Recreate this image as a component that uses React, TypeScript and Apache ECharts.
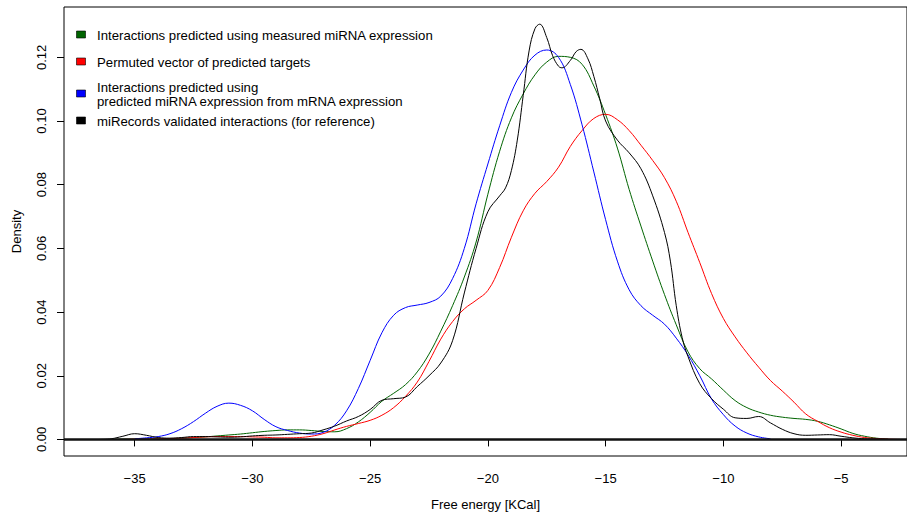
import React, { useEffect, useRef } from "react";
import * as echarts from "echarts";

const FONT = '"Liberation Sans", Arial, Helvetica, sans-serif';

const seriesNames = [
  "Interactions predicted using measured miRNA expression",
  "Permuted vector of predicted targets",
  "Interactions predicted using\npredicted miRNA expression from mRNA expression",
  "miRecords validated interactions (for reference)",
];
const seriesColors = ["#006400", "#ff0000", "#0000ff", "#000000"];

const xTicks = [-35, -30, -25, -20, -15, -10, -5];
const yTicks = [0, 0.02, 0.04, 0.06, 0.08, 0.1, 0.12];

const xGrid = [
  -36.5, -36, -35.5, -35, -34.5, -34, -33.5, -33, -32.5, -32, -31.5, -31, -30.5, -30, -29.5, -29, -28.5, -28,
  -27.5, -27, -26.5, -26, -25.5, -25, -24.5, -24, -23.5, -23, -22.5, -22, -21.5, -21, -20.5, -20, -19.5, -19,
  -18.5, -18, -17.5, -17, -16.5, -16, -15.5, -15, -14.5, -14, -13.5, -13, -12.5, -12, -11.5, -11, -10.5, -10,
  -9.5, -9, -8.5, -8, -7.5, -7, -6.5, -6, -5.5, -5, -4.5, -4, -3.5, -3, -2.5,
];

const greenVals = [
  null, 0.0, 0.0001, 0.0001, 0.0002, 0.0002, 0.0003, 0.0004, 0.0006, 0.0008, 0.0011, 0.0014, 0.0017, 0.0021,
  0.0025, 0.0028, 0.003, 0.003, 0.0028, 0.0025, 0.0024, 0.0034, 0.0055, 0.0085, 0.012, 0.0145, 0.0172, 0.0212,
  0.0268, 0.034, 0.042, 0.051, 0.062, 0.077, 0.0905, 0.101, 0.1085, 0.1145, 0.1185, 0.1203, 0.12, 0.1178, 0.111,
  0.102, 0.0915, 0.0785, 0.067, 0.056, 0.0455, 0.036, 0.0275, 0.0222, 0.019, 0.0155, 0.0122, 0.01, 0.0086,
  0.0076, 0.007, 0.0066, 0.0063, 0.0057, 0.0046, 0.0033, 0.0019, 0.001, 0.0004, 0.0001, null,
];

const redVals = [
  null, 0.0, 0.0, 0.0001, 0.0001, 0.0002, 0.0003, 0.0004, 0.0006, 0.0008, 0.0009, 0.0009, 0.0009, 0.0008,
  0.0007, 0.0005, 0.0005, 0.0006, 0.001, 0.0018, 0.003, 0.0041, 0.005, 0.006, 0.0076, 0.01, 0.0135, 0.018,
  0.0245, 0.0315, 0.037, 0.041, 0.0437, 0.0468, 0.054, 0.0635, 0.0718, 0.0773, 0.081, 0.0855, 0.092, 0.097,
  0.1008, 0.1021, 0.1004, 0.097, 0.0924, 0.0876, 0.0822, 0.0748, 0.065, 0.0555, 0.0458, 0.038, 0.0322, 0.0272,
  0.0227, 0.0185, 0.0152, 0.0117, 0.008, 0.0057, 0.0037, 0.0023, 0.0013, 0.0006, 0.0003, 0.0001, 0.0,
];

const blueVals = [
  null, null, null, 0.0002, 0.0005, 0.0009, 0.0018, 0.0034, 0.0056, 0.0082, 0.0104, 0.0114, 0.0107, 0.009,
  0.0063, 0.004, 0.0028, 0.002, 0.0017, 0.0022, 0.0045, 0.009, 0.016, 0.0248, 0.0335, 0.039, 0.0414, 0.0422,
  0.043, 0.045, 0.0505, 0.06, 0.074, 0.0865, 0.0985, 0.109, 0.116, 0.1207, 0.1223, 0.12, 0.1115, 0.0988, 0.084,
  0.069, 0.056, 0.047, 0.042, 0.039, 0.0362, 0.0318, 0.0265, 0.02, 0.0127, 0.0078, 0.0042, 0.002, 0.0008,
  0.0002, null, null, null, null, null, null, null, null, null, null, null,
];

const xBlack = [
  -36.5, -36, -35.5, -35, -34.5, -34, -33.5, -33, -32.5, -32, -31.5, -31, -30.5, -30, -29.5, -29, -28.5, -28,
  -27.5, -27, -26.5, -26, -25.5, -25, -24.5, -24, -23.5, -23, -22.5, -22, -21.5, -21, -20.5, -20, -19.5, -19.25,
  -19, -18.75, -18.5, -18.25, -18, -17.8, -17.5, -17.25, -17, -16.85, -16.5, -16.25, -16.05, -15.75, -15.5,
  -15.25, -15, -14.5, -14, -13.5, -13, -12.5, -12.25, -12, -11.75, -11.5, -11, -10.5, -10, -9.5, -9, -8.5, -8,
  -7.5, -7, -6.5, -6, -5.5, -5, -4.5, -4, -3.5, -3,
];
const blackVals = [
  0.0, 0.0002, 0.001, 0.0018, 0.0013, 0.0006, 0.0004, 0.0006, 0.0009, 0.0009, 0.0008, 0.0007, 0.0008, 0.0011,
  0.0013, 0.0014, 0.0016, 0.0018, 0.002, 0.003, 0.0042, 0.0058, 0.0072, 0.0094, 0.0123, 0.0128, 0.0133, 0.0166,
  0.02, 0.024, 0.031, 0.046, 0.06, 0.0715, 0.0765, 0.079, 0.0845, 0.094, 0.108, 0.122, 0.129, 0.1304, 0.1262,
  0.1205, 0.1172, 0.1167, 0.119, 0.1218, 0.1225, 0.1195, 0.114, 0.107, 0.1, 0.094, 0.09, 0.085, 0.0765, 0.065,
  0.056, 0.042, 0.032, 0.026, 0.0175, 0.0128, 0.0095, 0.0068, 0.0066, 0.0072, 0.0052, 0.0032, 0.0018, 0.0013,
  0.0014, 0.0015, 0.001, 0.0005, 0.0002, 0.0001, 0.0,
];

const fmtMinus = (v: number) => (v < 0 ? "\u2212" + String(-v) : String(v));

export default function App() {
  const ref = useRef<HTMLDivElement>(null);
  useEffect(() => {
    if (!ref.current) return;
    const chart = echarts.init(ref.current, undefined, { renderer: "svg" });
    const pairs = (xs: number[], ys: (number | null)[]) => xs.map((x, i) => [x, ys[i]]);
    const datasets = [
      pairs(xGrid, greenVals),
      pairs(xGrid, redVals),
      pairs(xGrid, blueVals),
      pairs(xBlack, blackVals),
    ];
    const series: any[] = datasets.map((d, i) => ({
      name: seriesNames[i],
      type: "line",
      data: d,
      smooth: 0.4,
      showSymbol: false,
      symbol: "none",
      lineStyle: { color: seriesColors[i], width: 1 },
      itemStyle: { color: seriesColors[i] },
      z: 2 + i,
    }));
    series[3].markLine = {
      silent: true,
      symbol: "none",
      label: { show: false },
      lineStyle: { color: "#111", width: 2.5, type: "solid" },
      data: [{ yAxis: 0 }],
      z: 10,
    };

    const legendRows = [
      { boxY: 35, lines: [{ y: 35, t: "Interactions predicted using measured miRNA expression" }] },
      { boxY: 62, lines: [{ y: 62, t: "Permuted vector of predicted targets" }] },
      {
        boxY: 94,
        lines: [
          { y: 87, t: "Interactions predicted using" },
          { y: 101, t: "predicted miRNA expression from mRNA expression" },
        ],
      },
      { boxY: 121, lines: [{ y: 121, t: "miRecords validated interactions (for reference)" }] },
    ];
    const graphic: any[] = [];
    legendRows.forEach((row, i) => {
      graphic.push({
        type: "rect",
        shape: { x: 76.5, y: row.boxY - 4, width: 9, height: 7 },
        style: { fill: seriesColors[i], stroke: "#000", lineWidth: 0.6 },
      });
      row.lines.forEach((ln) => {
        graphic.push({
          type: "text",
          x: 97,
          y: ln.y,
          style: { text: ln.t, font: `13.2px ${FONT}`, fill: "#000", verticalAlign: "middle", align: "left" },
        });
      });
    });

    chart.setOption({
      animation: false,
      backgroundColor: "#fff",
      grid: {
        left: 64,
        top: 7,
        width: 852,
        height: 449,
        show: true,
        borderColor: "#000",
        borderWidth: 1,
        containLabel: false,
      },
      xAxis: {
        type: "value",
        min: -38,
        max: -38 + 852 / 23.8,
        name: "Free energy [KCal]",
        nameLocation: "middle",
        nameGap: 42,
        nameTextStyle: { fontFamily: FONT, fontSize: 13, color: "#000" },
        axisLine: { show: false },
        splitLine: { show: false },
        axisTick: { show: true, length: 7, customValues: xTicks, lineStyle: { color: "#000", width: 1 } },
        axisLabel: {
          customValues: xTicks,
          formatter: (v: number) => fmtMinus(v),
          fontFamily: FONT,
          fontSize: 13,
          color: "#000",
          margin: 16,
        },
      },
      yAxis: {
        type: "value",
        min: -0.0052,
        max: 0.1358,
        name: "Density",
        nameLocation: "middle",
        nameGap: 41,
        nameRotate: 90,
        nameTextStyle: { fontFamily: FONT, fontSize: 13, color: "#000" },
        axisLine: { show: false },
        splitLine: { show: false },
        axisTick: { show: true, length: 7, customValues: yTicks, lineStyle: { color: "#000", width: 1 } },
        axisLabel: {
          customValues: yTicks,
          rotate: 90,
          formatter: (v: number) => v.toFixed(2),
          fontFamily: FONT,
          fontSize: 13,
          color: "#000",
          margin: 16,
        },
      },
      graphic,
      series,
    });
    return () => chart.dispose();
  }, []);
  return <div ref={ref} style={{ width: 907, height: 516, position: "absolute", left: 0, top: 0 }} />;
}
